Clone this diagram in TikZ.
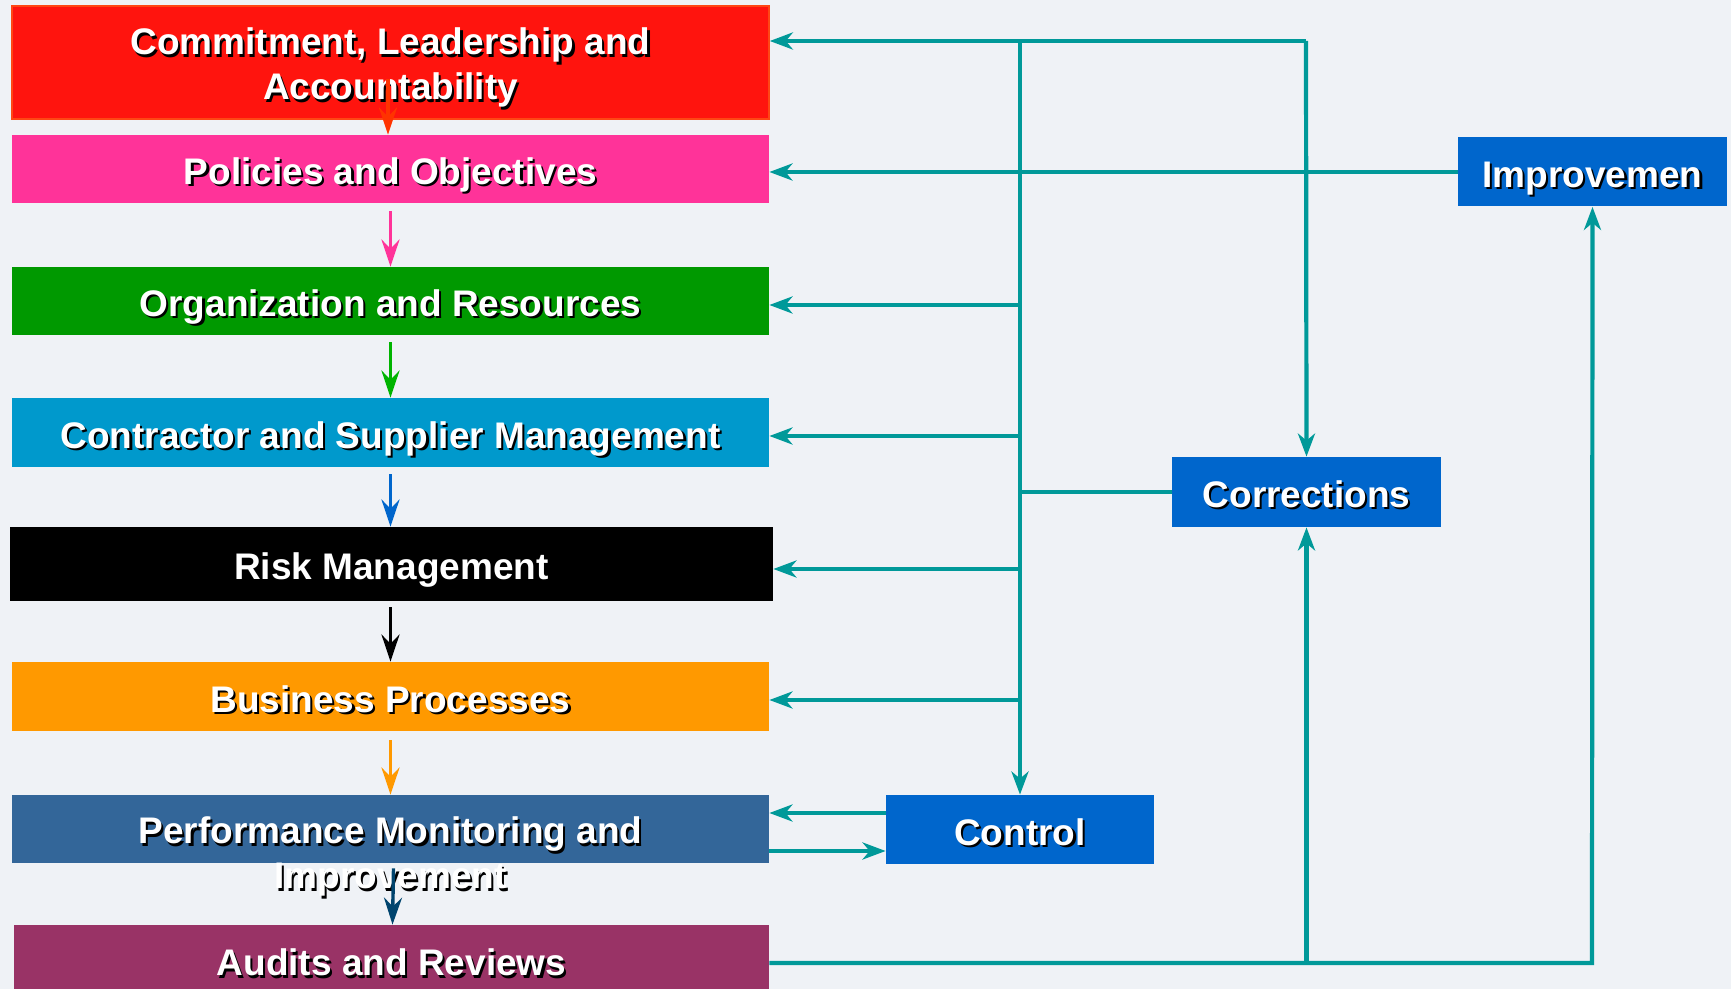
\documentclass[tikz,border=0pt]{standalone}
\usepackage{fontspec}
\setmainfont{Liberation Sans}
\usetikzlibrary{arrows.meta,calc}
\definecolor{bgc}{RGB}{239,242,246}
\definecolor{cRed}{RGB}{255,20,14}
\definecolor{cRedB}{RGB}{255,70,20}
\definecolor{cPink}{RGB}{255,51,153}
\definecolor{cGreen}{RGB}{0,153,0}
\definecolor{cCyan}{RGB}{0,153,204}
\definecolor{cOrange}{RGB}{255,153,0}
\definecolor{cSteel}{RGB}{51,102,153}
\definecolor{cPurple}{RGB}{153,51,102}
\definecolor{cBlue}{RGB}{0,102,204}
\definecolor{cTeal}{RGB}{0,153,153}
\definecolor{aRed}{RGB}{255,51,0}
\definecolor{aGreen}{RGB}{0,180,0}
\definecolor{aNavy}{RGB}{0,68,110}
\newcommand\shtxt[1]{\leavevmode\rlap{\kern1.1pt\raisebox{-1.1pt}{\textcolor{black}{#1}}}#1}
\newcommand\twolines[3]{\raisebox{#1}[0pt][0pt]{\begin{tabular}{@{}c@{}}\shtxt{#2}\\\shtxt{#3}\end{tabular}}}
\tikzset{
  box/.style={draw=none, inner sep=0pt, text=white, align=center,
    text height=15.8pt, text depth=0pt,
    font=\fontsize{18.5}{22.5}\selectfont\bfseries},
  wide/.style={box, minimum width=378.5pt, minimum height=34pt},
  bluebox/.style={box, fill=cBlue, minimum width=134.5pt, minimum height=34.5pt},
  tl/.style={draw=cTeal, line width=2.1pt},
  tla/.style={tl, -{Stealth[length=11.5pt,width=8.5pt,inset=3.5pt]}},
  va/.style={line width=1.7pt, -{Stealth[length=13.5pt,width=9pt,inset=4.5pt]}}
}
\begin{document}
\begin{tikzpicture}[x=0.5pt,y=-0.5pt]
\useasboundingbox (0,0) rectangle (1731,989);
\fill[bgc] (0,0) rectangle (1731,989);

% left column boxes
\node[wide, fill=cRed, draw=cRedB, line width=0.8pt, minimum height=56.5pt] (cla) at (390.5,62.5)
  {\twolines{0.6pt}{Commitment, Leadership and}{Accountability}};
\node[wide, fill=cPink] (po) at (390.5,169) {\shtxt{Policies and Objectives}};
\node[wide, fill=cGreen] (org) at (390.5,301) {\shtxt{Organization and Resources}};
\node[wide, fill=cCyan, minimum height=34.5pt] (cs) at (390.5,432.5) {\shtxt{Contractor and Supplier Management}};
\node[wide, fill=black, minimum width=381.5pt, minimum height=37pt] (rm) at (391.5,564) {\shtxt{Risk Management}};
\node[wide, fill=cOrange, minimum height=34.5pt] (bp) at (390.5,696.5) {\shtxt{Business Processes}};
\node[wide, fill=cSteel] (pm) at (390.5,829)
  {\twolines{-10.6pt}{Performance Monitoring and}{Improvement}};
\node[wide, fill=cPurple, minimum width=377.5pt, minimum height=35pt] (ar) at (391.5,960) {\shtxt{Audits and Reviews}};

% right boxes
\node[bluebox] (imp) at (1592.5,172) {\shtxt{Improvemen}};
\node[bluebox, minimum height=35pt] (corr) at (1306.5,492) {\shtxt{Corrections}};
\node[bluebox, minimum width=134pt] (ctl) at (1020,829.5) {\shtxt{Control}};

% coordinates of the teal network
\coordinate (busT) at (1020,41);
\coordinate (topR) at (1306,41);
\coordinate (bG) at (1020,305);
\coordinate (bC) at (1020,436);
\coordinate (bK) at (1020,569);
\coordinate (bO) at (1020,700);
\coordinate (cA) at (886,813);
\coordinate (cB) at (886,851);
\coordinate (bR) at (1592,963);

% teal connectors
\draw[tl] (busT) -- (topR);
\draw[tla] (busT) -- (busT -| cla.east);
\draw[tla] (topR) -- (corr.north);
\draw[tla] (busT) -- (ctl.north);
\draw[tla] (imp.west) -- (imp.west -| po.east);
\draw[tla] (bG) -- (bG -| org.east);
\draw[tla] (bC) -- (bC -| cs.east);
\draw[tla] (bK) -- (bK -| rm.east);
\draw[tla] (bO) -- (bO -| bp.east);
\draw[tl] (corr.west) -- (corr.west -| busT);
\draw[tla] (ctl.west |- cA) -- (pm.east |- cA);
\draw[tla] (pm.east |- cB) -- (ctl.west |- cB);
\draw[tla] (ar.east |- bR) -- (bR) -- (imp.south);
\draw[tla] (corr.south |- bR) -- (corr.south);

% vertical coloured arrows
\draw[va, draw=aRed] ([xshift=-1.25pt,yshift=20.5pt]cla.south) -- ([xshift=-1.25pt]po.north);
\draw[va, draw=cPink] ([yshift=-4pt]po.south) -- (org.north);
\draw[va, draw=aGreen] ([yshift=-3.5pt]org.south) -- (cs.north);
\draw[va, draw=cBlue] ([yshift=-3.5pt]cs.south) -- ([xshift=-0.5pt]rm.north);
\draw[va, draw=black] ([xshift=-0.5pt,yshift=-3pt]rm.south) -- (bp.north);
\draw[va, draw=cOrange] ([yshift=-4.5pt]bp.south) -- (pm.north);
\draw[va, draw=aNavy] ([xshift=1.5pt,yshift=-2.5pt]pm.south) -- ([xshift=0.5pt]ar.north);
\end{tikzpicture}
\end{document}
